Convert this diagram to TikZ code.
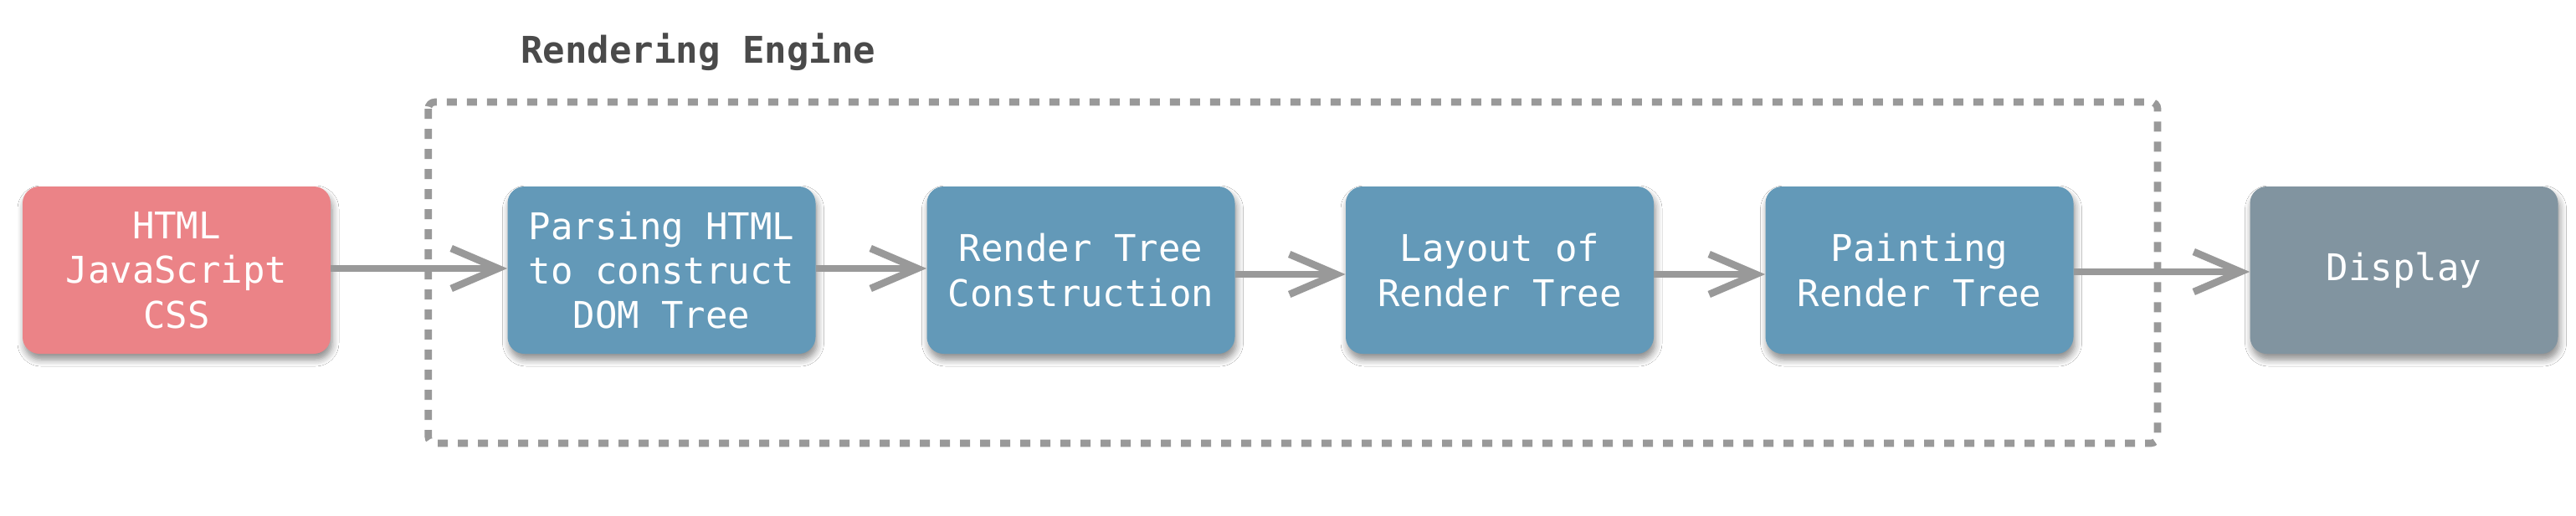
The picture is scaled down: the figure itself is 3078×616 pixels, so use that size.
\documentclass[tikz,border=0pt]{standalone}
\usepackage{fontspec}
\setmonofont{DejaVu Sans Mono}
\usetikzlibrary{arrows.meta,shadows.blur}
\definecolor{pinkbox}{HTML}{EB8387}
\definecolor{bluebox}{HTML}{6399B8}
\definecolor{graybox}{HTML}{8194A0}
\definecolor{linegray}{HTML}{999999}
\definecolor{titlegray}{HTML}{4A4A4A}
\tikzset{
  stagebox/.style={rounded corners=10pt, minimum width=184pt, minimum height=100pt,
    inner sep=0pt, align=center, text=white,
    font=\ttfamily\fontsize{22pt}{26.7pt}\selectfont,
    blur shadow={shadow xshift=1pt, shadow yshift=-3.5pt, shadow blur steps=6, shadow opacity=45, shadow blur radius=4pt}},
  flow/.style={draw=linegray, line width=4.3pt,
    -{Straight Barb[length=28pt, width=24pt, line cap=butt, line join=miter]}},
  enginebox/.style={draw=linegray, line width=4.3pt, dash pattern=on 6pt off 6pt, rounded corners=4pt}
}
\begin{document}
\begin{tikzpicture}[x=0.5pt, y=-0.5pt]
\useasboundingbox (0,0) rectangle (3078,616);
\fill[white] (0,0) rectangle (3078,616);
\draw[enginebox] (511.7,122) rectangle (2578,530);
\node[anchor=base west, inner sep=0pt, text=titlegray, font=\ttfamily\bfseries\fontsize{22pt}{26.7pt}\selectfont] (title) at (622,75) {Rendering Engine};
\node[stagebox, fill=pinkbox] (src) at (211,323) {HTML\\JavaScript\\CSS};
\node[stagebox, fill=bluebox] (parse) at (790.5,323) {Parsing HTML\\to construct\\DOM Tree};
\node[stagebox, fill=bluebox] (rtree) at (1291.5,323) {Render Tree\\Construction};
\node[stagebox, fill=bluebox] (layout) at (1792,323) {Layout of\\Render Tree};
\node[stagebox, fill=bluebox] (paint) at (2293.5,323) {Painting\\Render Tree};
\node[stagebox, fill=graybox, minimum width=184pt] (disp) at (2872.5,323) {Display};
\draw[flow] ([yshift=1pt]src.east) -- ([yshift=1pt]parse.west);
\draw[flow] ([yshift=1pt]parse.east) -- ([yshift=1pt]rtree.west);
\draw[flow] ([yshift=-2.5pt]rtree.east) -- ([yshift=-2.5pt]layout.west);
\draw[flow] ([yshift=-2.5pt]layout.east) -- ([yshift=-2.5pt]paint.west);
\draw[flow] ([yshift=-1pt]paint.east) -- ([yshift=-1pt]disp.west);
\end{tikzpicture}
\end{document}
